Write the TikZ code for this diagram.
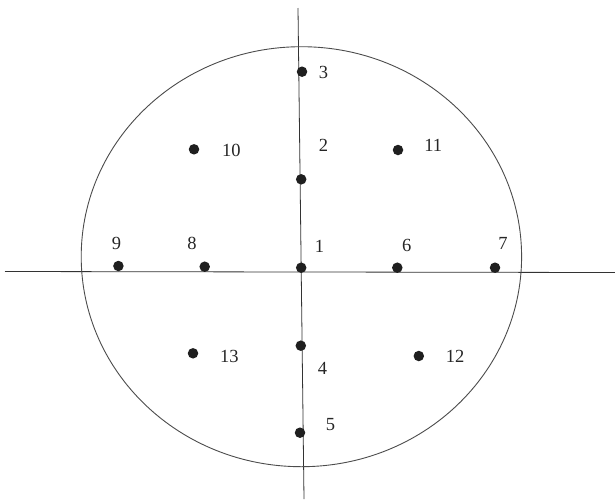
\documentclass[tikz,border=0pt]{standalone}
\usepackage{fontspec}
\setmainfont{Liberation Serif}
\begin{document}
\begin{tikzpicture}[x=1pt,y=-1pt,
  dot/.style={circle,fill=black!88,inner sep=0pt,minimum size=10.5pt},
  lab/.style={font=\fontsize{18.5}{18.5}\selectfont,text=black!85,inner sep=0pt},
  axis/.style={line width=0.8pt,black!80},
  rim/.style={line width=0.9pt,black!70}]
\useasboundingbox (0,0) rectangle (615,499);
\fill[white] (0,0) rectangle (615,499);
% axes
\coordinate (vtop) at (298,8);
\coordinate (vbot) at (304,499);
\coordinate (hl) at (5,271.5);
\coordinate (hr) at (615,272.5);
\draw[axis] (vtop) -- (vbot);
\draw[axis] (hl) -- (hr);
% rim
\coordinate (c) at (301.4,256.7);
\draw[rim] (c) ellipse [x radius=220.2pt, y radius=210pt];
% dots
\node[dot] (d1) at (301.2,267.7) {};
\node[dot] (d2) at (301.2,179.3) {};
\node[dot] (d3) at (302,71.7) {};
\node[dot] (d4) at (300.8,345.7) {};
\node[dot] (d5) at (300,432.7) {};
\node[dot] (d6) at (397.3,267.7) {};
\node[dot] (d7) at (495,267.7) {};
\node[dot] (d8) at (204.7,266.7) {};
\node[dot] (d9) at (118.4,266) {};
\node[dot] (d10) at (194,149.3) {};
\node[dot] (d11) at (398,150) {};
\node[dot] (d12) at (418.8,356) {};
\node[dot] (d13) at (193,353.3) {};
% labels
\node[lab] (l1) at (319.6,246) {1};
\node[lab] (l2) at (323.5,145) {2};
\node[lab] (l3) at (323.5,72.7) {3};
\node[lab] (l4) at (322.4,368.3) {4};
\node[lab] (l5) at (330.6,425) {5};
\node[lab] (l6) at (406.7,245) {6};
\node[lab] (l7) at (503,243.3) {7};
\node[lab] (l8) at (192,243.3) {8};
\node[lab] (l9) at (116.5,243.3) {9};
\node[lab] (l10) at (231.3,150.3) {10};
\node[lab] (l11) at (433.3,145) {11};
\node[lab] (l12) at (455,356.7) {12};
\node[lab] (l13) at (229.4,356) {13};
\end{tikzpicture}
\end{document}
